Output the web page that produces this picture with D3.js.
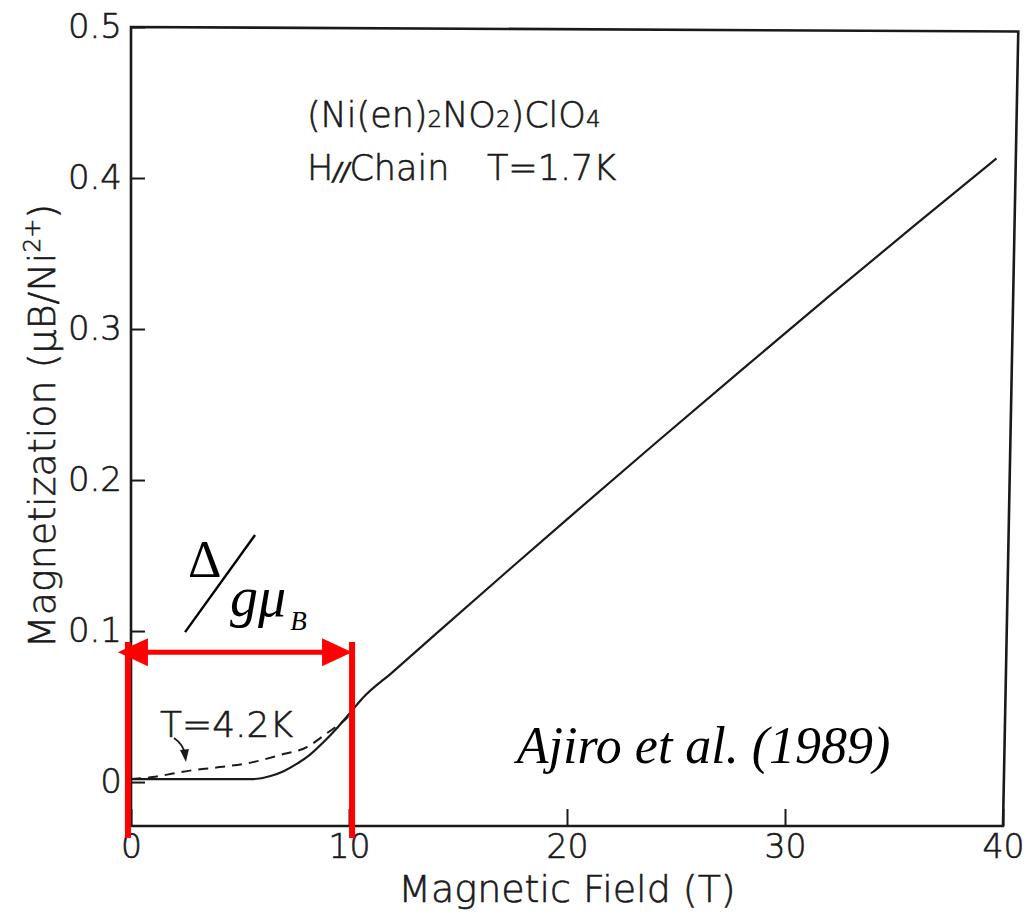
<!DOCTYPE html>
<html>
<head>
<meta charset="utf-8">
<script src="https://cdn.jsdelivr.net/npm/d3@7"></script>
<style>
  html, body { margin: 0; padding: 0; background: #fff; }
  svg { display: block; }
  .sans { font-family: "DejaVu Sans", sans-serif; font-weight: 200; fill: #1a1a1a; stroke: #1a1a1a; stroke-width: 0.6px; }
  .serif { font-family: "Liberation Serif", "Times New Roman", serif; fill: #000; }
</style>
</head>
<body>
<svg id="chart" width="1033" height="917"></svg>
<script>
// Magnetization curve of (Ni(en)2NO2)ClO4, field parallel to the chain.

// T = 1.7 K (solid)
const solidField = [0, 2, 4, 5.6, 6.4, 7.0, 7.6, 8.2, 8.8, 9.4, 10.0, 10.6, 12, 14, 17, 20, 24, 28, 32, 36, 39.7];
const solidMag   = [0.002, 0.002, 0.002, 0.002, 0.004, 0.0072, 0.012, 0.018, 0.026, 0.035, 0.045, 0.0552, 0.0728, 0.0983, 0.1363, 0.174, 0.2237, 0.2728, 0.3214, 0.3693, 0.413];

// T = 4.2 K (dashed)
const dashedField = [0, 1.0, 2.0, 2.84, 4.08, 5.6, 6.83, 8.07, 9.0, 9.9, 10.2];
const dashedMag   = [0.002, 0.0033, 0.0058, 0.0079, 0.0099, 0.0132, 0.0179, 0.0232, 0.0325, 0.0424, 0.047];

// axes
const xTicks = [0, 10, 20, 30, 40];
const yTicks = [0, 0.1, 0.2, 0.3, 0.4, 0.5];

// Haldane gap annotation (field in T)
const gapStart = -0.14;
const gapEnd = 10.14;
const gapArrowTail = -0.6;
const gapArrowMag = 0.086;
const gapBarTop = 0.0927;
const gapBarBottom = -0.037;

// plot frame corners (field, magnetization)
const frameField = [0, 40.7, 40, 0];
const frameMag   = [0.5, 0.497, -0.0291, -0.0291];

const svg = d3.select("#chart");

const x = d3.scaleLinear().domain([0, 40]).range([131, 1003]);
const y = d3.scaleLinear().domain([-0.0291, 0.5]).range([826, 27]);

// frame
const framePts = frameField.map((f, i) => [x(f), y(frameMag[i])]);
svg.append("path")
  .attr("d", d3.line()(framePts) + "Z")
  .attr("fill", "none")
  .attr("stroke", "#1a1a1a")
  .attr("stroke-width", 2.6);

// axes with inward ticks
const xAxis = svg.append("g")
  .attr("transform", `translate(0,${y(-0.0291)})`)
  .call(d3.axisBottom(x).tickValues(xTicks).tickSizeInner(-17).tickSizeOuter(0).tickPadding(9).tickFormat(d3.format("d")));
xAxis.select(".domain").remove();
xAxis.selectAll(".tick line").attr("stroke", "#1a1a1a").attr("stroke-width", 2);
xAxis.selectAll(".tick text").attr("class", "sans").attr("font-size", 33).attr("fill", "#1a1a1a");

const yAxis = svg.append("g")
  .attr("transform", `translate(${x(0) + 1},0)`)
  .call(d3.axisLeft(y).tickValues(yTicks).tickSizeInner(-13).tickSizeOuter(0).tickPadding(10)
    .tickFormat(d => d === 0 ? "0" : d3.format(".1f")(d)));
yAxis.select(".domain").remove();
yAxis.selectAll(".tick line").attr("stroke", "#1a1a1a").attr("stroke-width", 2);
yAxis.selectAll(".tick text").attr("class", "sans").attr("font-size", 34).attr("fill", "#1a1a1a");

// axis titles
svg.append("text").attr("class", "sans")
  .attr("x", (x(0) + x(40)) / 2).attr("y", 902)
  .attr("text-anchor", "middle").attr("font-size", 38)
  .text("Magnetic Field (T)");

const yTitle = svg.append("text").attr("class", "sans")
  .attr("transform", `translate(55,${426}) rotate(-90)`)
  .attr("text-anchor", "middle").attr("font-size", 38);
yTitle.append("tspan").text("Magnetization (μB/Ni");
yTitle.append("tspan").attr("font-size", 23).attr("dy", -15).text("2+");
yTitle.append("tspan").attr("dy", 15).text(")");

// curves
const line = d3.line().curve(d3.curveMonotoneX);
svg.append("path")
  .attr("d", line(solidField.map((f, i) => [x(f), y(solidMag[i])])))
  .attr("fill", "none").attr("stroke", "#1a1a1a").attr("stroke-width", 2.2);
svg.append("path")
  .attr("d", line(dashedField.map((f, i) => [x(f), y(dashedMag[i])])))
  .attr("fill", "none").attr("stroke", "#1a1a1a").attr("stroke-width", 2)
  .attr("stroke-dasharray", "10,7");

// sample labels
const t1 = svg.append("text").attr("class", "sans").attr("font-size", 35)
  .attr("x", x(8.07)).attr("y", y(0.4338));
t1.append("tspan").text("(Ni(en)");
t1.append("tspan").attr("font-size", 23).text("2");
t1.append("tspan").text("NO");
t1.append("tspan").attr("font-size", 23).text("2");
t1.append("tspan").text(")ClO");
t1.append("tspan").attr("font-size", 23).text("4");

const t2 = svg.append("text").attr("class", "sans").attr("font-size", 35)
  .attr("x", x(8.07)).attr("y", y(0.3987));
t2.append("tspan").text("H");
t2.append("tspan").attr("font-size", 24).attr("font-style", "italic").text("//");
t2.append("tspan").text("Chain");
svg.append("text").attr("class", "sans").attr("font-size", 35)
  .attr("x", x(16.33)).attr("y", y(0.3987)).text("T=1.7K");

// 4.2 K label with pointer
svg.append("text").attr("class", "sans").attr("font-size", 36)
  .attr("x", x(1.33)).attr("y", y(0.0298)).text("T=4.2K");
const pa = [x(1.97), y(0.0291)], pb = [x(2.52), y(0.0132)];
svg.append("path")
  .attr("d", `M${pa[0]},${pa[1]} Q${pa[0] + 9},${pa[1] + 6} ${pb[0] - 1},${pb[1] - 8}`)
  .attr("fill", "none").attr("stroke", "#1a1a1a").attr("stroke-width", 1.8);
svg.append("path")
  .attr("d", `M${pb[0] - 6},${pb[1] - 12} L${pb[0]},${pb[1]} L${pb[0] + 3},${pb[1] - 13} Z`)
  .attr("fill", "#1a1a1a");

// citation
svg.append("text").attr("class", "serif").attr("font-size", 52).attr("font-style", "italic")
  .attr("x", x(17.7)).attr("y", y(0.0126)).text("Ajiro et al. (1989)");

// gap annotation
const red = "#ff0000";
[gapStart, gapEnd].forEach(f => {
  svg.append("line")
    .attr("x1", x(f)).attr("x2", x(f))
    .attr("y1", y(gapBarTop)).attr("y2", y(gapBarBottom))
    .attr("stroke", red).attr("stroke-width", 6);
});
const ay = y(gapArrowMag);
const headLen = 30, headHalf = 14;
svg.append("line")
  .attr("x1", x(gapArrowTail) + headLen - 2).attr("x2", x(gapEnd) - headLen + 2)
  .attr("y1", ay).attr("y2", ay)
  .attr("stroke", red).attr("stroke-width", 5);
const lt = x(gapArrowTail), rt = x(gapEnd);
svg.append("path")
  .attr("d", `M${lt},${ay} L${lt + headLen},${ay - headHalf} L${lt + headLen},${ay + headHalf} Z`)
  .attr("fill", red);
svg.append("path")
  .attr("d", `M${rt},${ay} L${rt - headLen},${ay - headHalf} L${rt - headLen},${ay + headHalf} Z`)
  .attr("fill", red);

// Δ / gμ_B
svg.append("text").attr("class", "serif").attr("font-size", 52)
  .attr("x", x(2.61)).attr("y", y(0.1358)).text("Δ");
svg.append("line")
  .attr("x1", x(5.69)).attr("y1", y(0.1636))
  .attr("x2", x(2.48)).attr("y2", y(0.0993))
  .attr("stroke", "#000").attr("stroke-width", 2.4);
svg.append("text").attr("class", "serif").attr("font-size", 56).attr("font-style", "italic")
  .attr("x", x(4.54)).attr("y", y(0.110)).text("gμ");
svg.append("text").attr("class", "serif").attr("font-size", 27).attr("font-style", "italic")
  .attr("x", x(7.3)).attr("y", y(0.1007)).text("B");
</script>
</body>
</html>
